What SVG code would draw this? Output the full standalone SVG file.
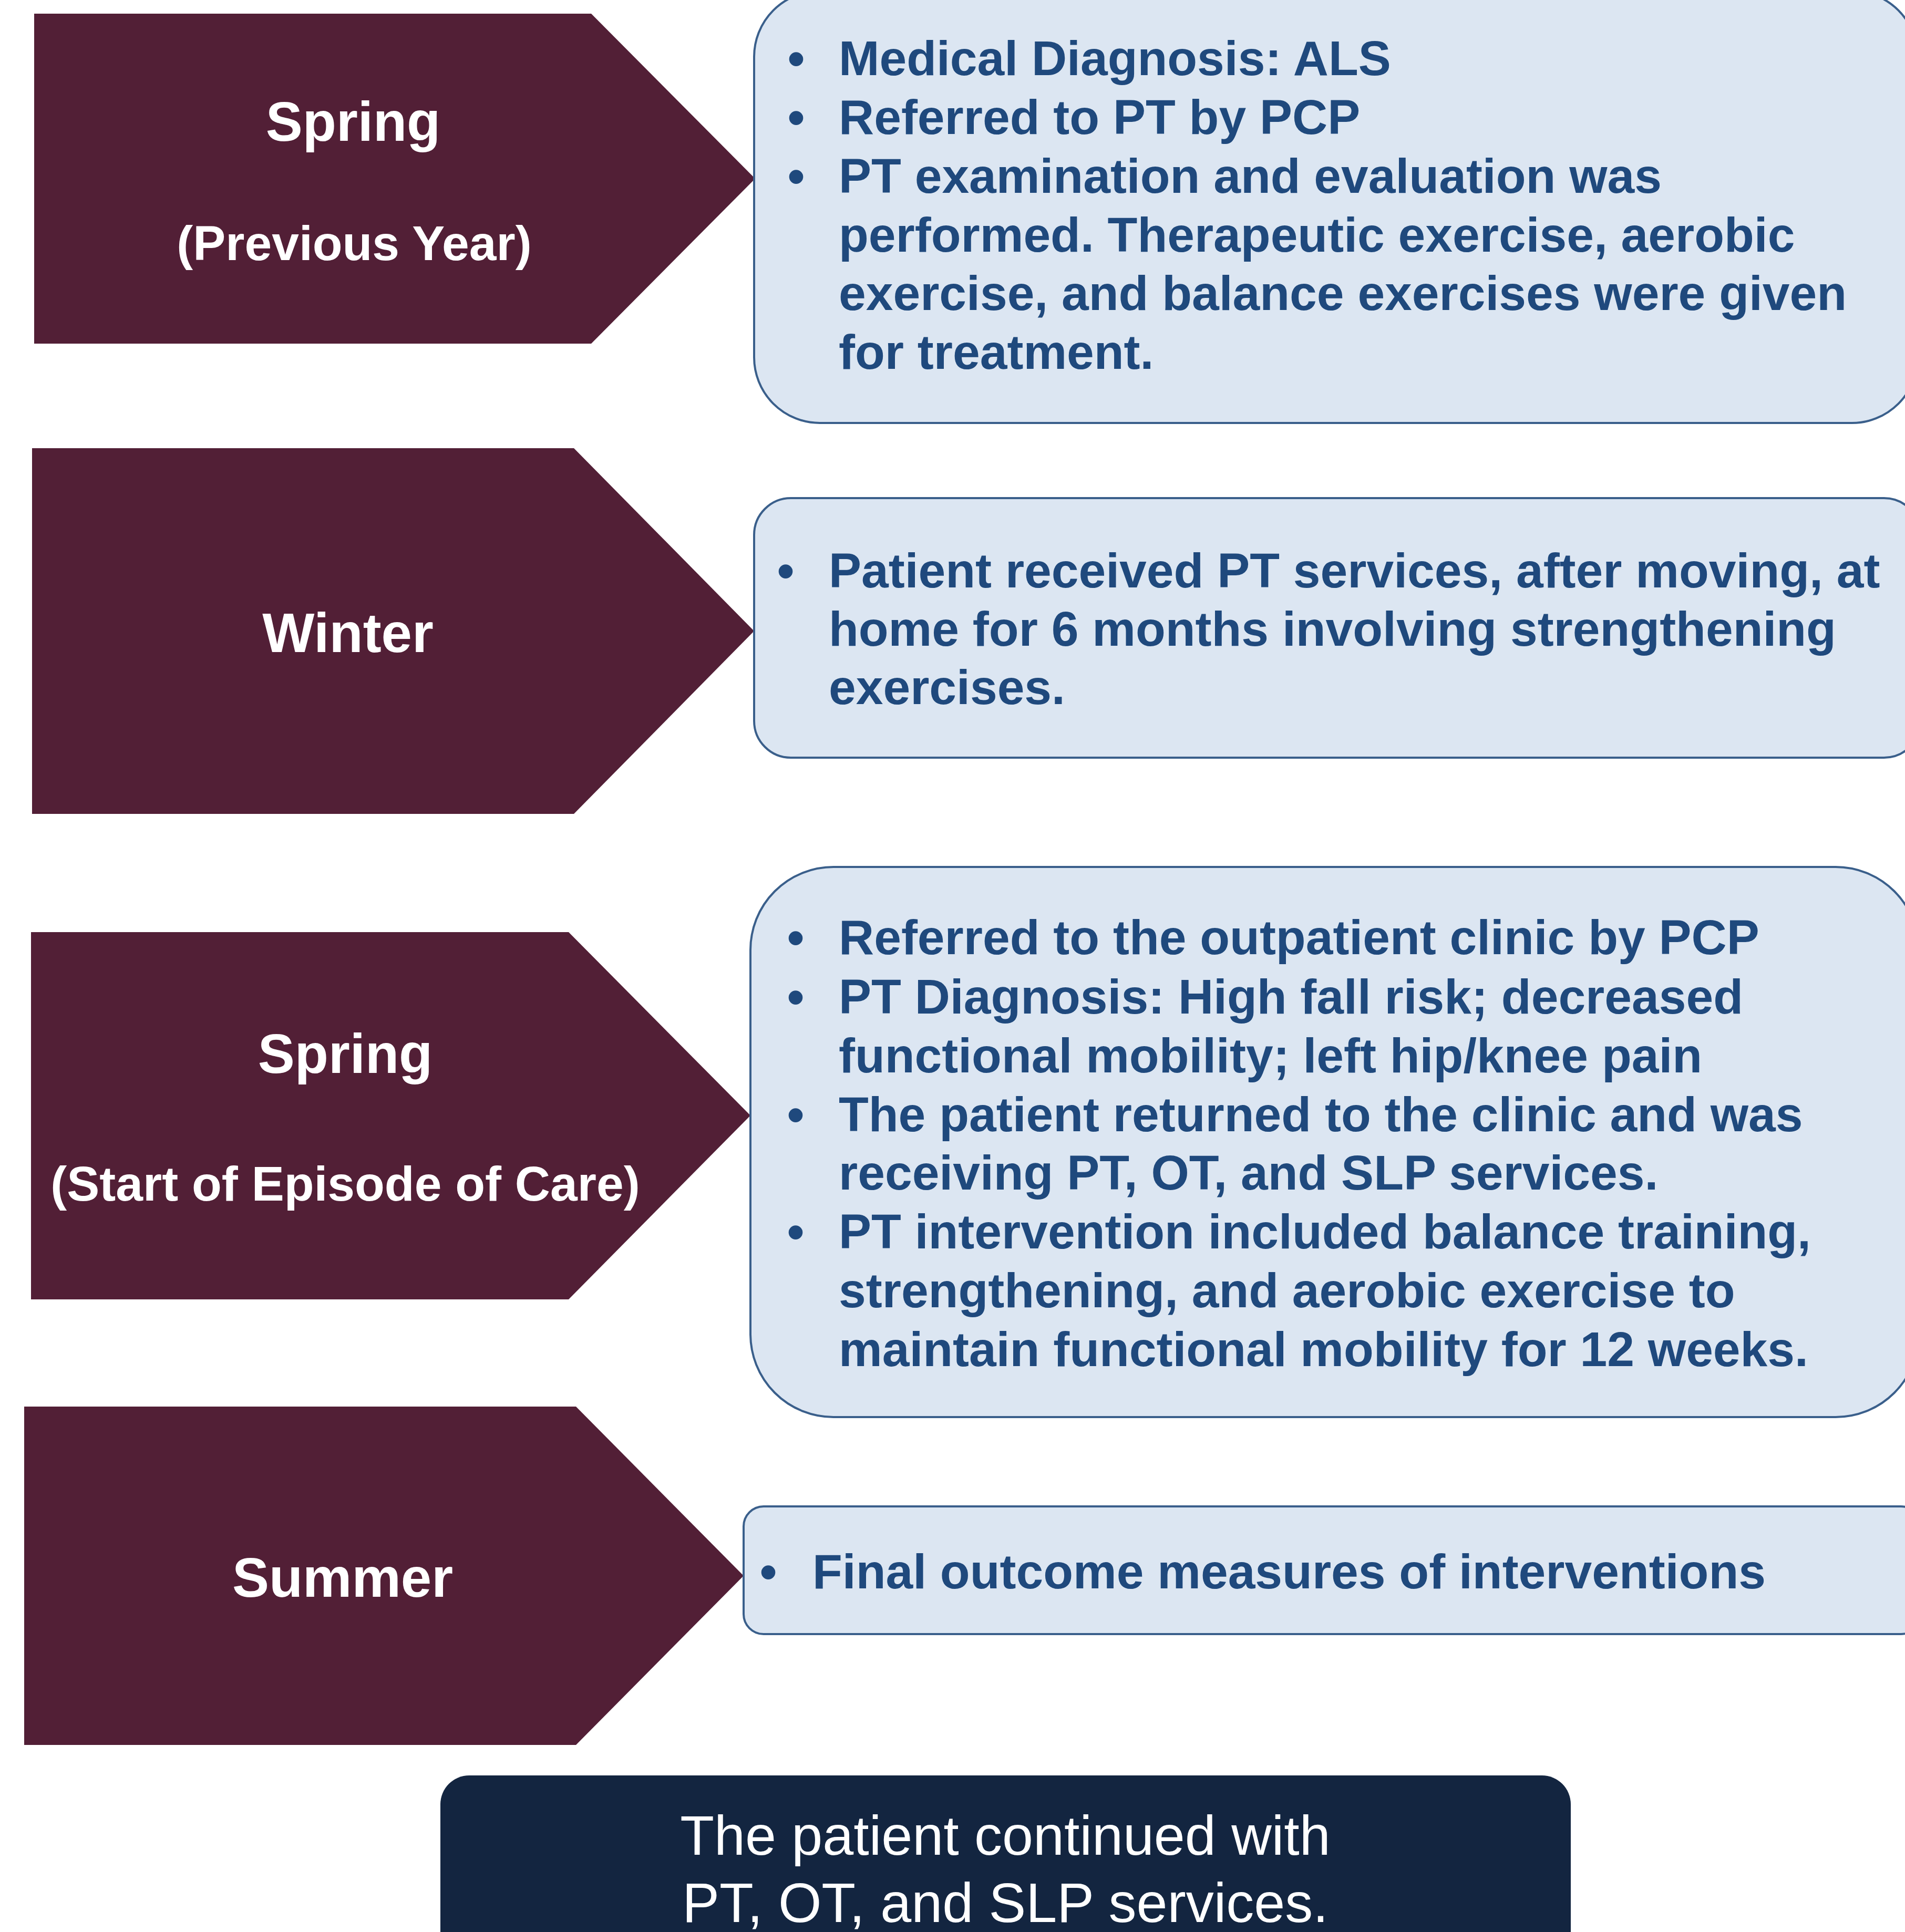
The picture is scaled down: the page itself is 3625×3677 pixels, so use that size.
<svg xmlns="http://www.w3.org/2000/svg" width="3625" height="3677" viewBox="0 0 3625 3677">
  <style>
    .season { fill: #521F36; }
    .card { fill: #DCE6F2; stroke: #3A5F8B; stroke-width: 4; }
    .final { fill: #132540; }
    .title { font-family: "Liberation Sans", Arial, sans-serif; font-weight: bold; font-size: 105px; fill: #FFFFFF; text-anchor: middle; }
    .sub { font-family: "Liberation Sans", Arial, sans-serif; font-weight: bold; font-size: 93px; fill: #FFFFFF; text-anchor: middle; }
    .body { font-family: "Liberation Sans", Arial, sans-serif; font-weight: bold; font-size: 93px; fill: #1F497D; }
    .dot { font-family: "Liberation Sans", Arial, sans-serif; font-weight: bold; font-size: 93px; fill: #1F497D; text-anchor: middle; }
    .note { font-family: "Liberation Sans", Arial, sans-serif; font-size: 106px; fill: #FFFFFF; text-anchor: middle; }
  </style>
  <rect width="3625" height="3677" fill="#FFFFFF"/>

  <!-- Spring, previous year -->
  <g id="spring-previous">
    <path class="season" d="M65,26 H1125 L1437,340 L1125,654 H65 Z"/>
    <text class="title" x="672" y="268">Spring</text>
    <text class="sub" x="674" y="495">(Previous Year)</text>
  </g>
  <g id="spring-previous-notes">
    <rect class="card" x="1435" y="-17" width="2214" height="822" rx="125" ry="125"/>
    <text class="dot" x="1515" y="143">•</text>
    <text class="body" x="1596" y="143">Medical Diagnosis: ALS</text>
    <text class="dot" x="1515" y="255">•</text>
    <text class="body" x="1596" y="255">Referred to PT by PCP</text>
    <text class="dot" x="1515" y="367">•</text>
    <text class="body" x="1596" y="367">PT examination and evaluation was</text>
    <text class="body" x="1596" y="479">performed. Therapeutic exercise, aerobic</text>
    <text class="body" x="1596" y="590">exercise, and balance exercises were given</text>
    <text class="body" x="1596" y="702">for treatment.</text>
  </g>

  <!-- Winter -->
  <g id="winter">
    <path class="season" d="M61,853 H1092 L1435,1201 L1092,1549 H61 Z"/>
    <text class="title" x="662" y="1241">Winter</text>
  </g>
  <g id="winter-notes">
    <rect class="card" x="1435" y="948" width="2220" height="494" rx="70" ry="70"/>
    <text class="dot" x="1495" y="1118">•</text>
    <text class="body" x="1577" y="1118">Patient received PT services, after moving, at</text>
    <text class="body" x="1577" y="1229">home for 6 months involving strengthening</text>
    <text class="body" x="1577" y="1340">exercises.</text>
  </g>

  <!-- Spring, start of episode of care -->
  <g id="spring-start">
    <path class="season" d="M59,1774 H1082 L1428,2123 L1082,2473 H59 Z"/>
    <text class="title" x="657" y="2042">Spring</text>
    <text class="sub" x="657" y="2285">(Start of Episode of Care)</text>
  </g>
  <g id="spring-start-notes">
    <rect class="card" x="1428" y="1650" width="2223" height="1047" rx="158" ry="158"/>
    <text class="dot" x="1514" y="1816">•</text>
    <text class="body" x="1596" y="1816">Referred to the outpatient clinic by PCP</text>
    <text class="dot" x="1514" y="1929">•</text>
    <text class="body" x="1596" y="1929">PT Diagnosis: High fall risk; decreased</text>
    <text class="body" x="1596" y="2041">functional mobility; left hip/knee pain</text>
    <text class="dot" x="1514" y="2153">•</text>
    <text class="body" x="1596" y="2153">The patient returned to the clinic and was</text>
    <text class="body" x="1596" y="2264">receiving PT, OT, and SLP services.</text>
    <text class="dot" x="1514" y="2376">•</text>
    <text class="body" x="1596" y="2376">PT intervention included balance training,</text>
    <text class="body" x="1596" y="2488">strengthening, and aerobic exercise to</text>
    <text class="body" x="1596" y="2600">maintain functional mobility for 12 weeks.</text>
  </g>

  <!-- Summer -->
  <g id="summer">
    <path class="season" d="M46,2677 H1096 L1415,2999 L1096,3321 H46 Z"/>
    <text class="title" x="652" y="3039">Summer</text>
  </g>
  <g id="summer-notes">
    <rect class="card" x="1415" y="2867" width="2240" height="243" rx="38" ry="38"/>
    <text class="dot" x="1462" y="3023">•</text>
    <text class="body" x="1546" y="3023">Final outcome measures of interventions</text>
  </g>

  <!-- Closing note -->
  <g id="continued-care">
    <rect class="final" x="838" y="3379" width="2151" height="400" rx="55" ry="55"/>
    <text class="note" x="1913" y="3530">The patient continued with</text>
    <text class="note" x="1913" y="3658">PT, OT, and SLP services.</text>
  </g>

  <!-- No connectors: the pentagons point directly at their cards -->
  <g id="connectors"/>
</svg>
